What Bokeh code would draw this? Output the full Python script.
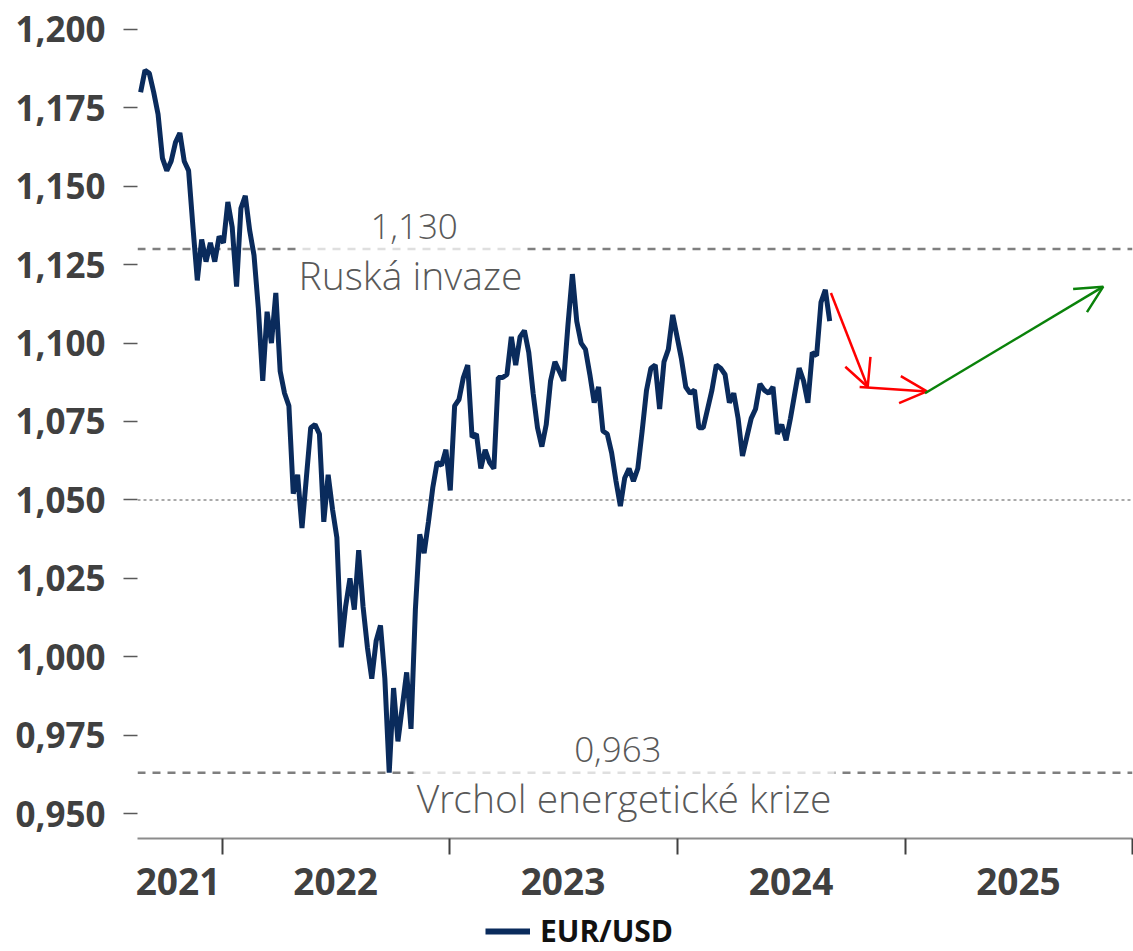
import pandas as pd
from bokeh.plotting import figure
from bokeh.layouts import column
from bokeh.models import (Range1d, FixedTicker, CustomJSTickFormatter, DatetimeTickFormatter,
                          Legend, LegendItem, Arrow, OpenHead, ColumnDataSource)
from bokeh.core.properties import value
from bokeh.embed import file_html
from bokeh.resources import INLINE

# ---------------- data ----------------
start_date = "2021-08-23"
eurusd = [
    1.180, 1.187, 1.186, 1.180, 1.173, 1.159, 1.155, 1.158, 1.164, 1.167,
    1.158, 1.155, 1.137, 1.120, 1.133, 1.126, 1.132, 1.126, 1.134, 1.132,
    1.145, 1.137, 1.118, 1.143, 1.147, 1.136, 1.128, 1.111, 1.088, 1.110,
    1.100, 1.116, 1.091, 1.084, 1.080, 1.052, 1.058, 1.041, 1.057, 1.073,
    1.074, 1.071, 1.043, 1.058, 1.047, 1.038, 1.003, 1.016, 1.025, 1.015,
    1.034, 1.016, 1.003, 0.993, 1.005, 1.010, 0.993, 0.963, 0.990, 0.973,
    0.984, 0.995, 0.977, 1.015, 1.039, 1.033, 1.043, 1.054, 1.062, 1.061,
    1.066, 1.053, 1.080, 1.082, 1.089, 1.093, 1.070, 1.071, 1.060, 1.066,
    1.062, 1.060, 1.089, 1.089, 1.090, 1.102, 1.093, 1.102, 1.104, 1.097,
    1.084, 1.073, 1.067, 1.074, 1.088, 1.094, 1.091, 1.088, 1.106, 1.122,
    1.107, 1.100, 1.098, 1.090, 1.081, 1.086, 1.072, 1.071, 1.065, 1.056,
    1.048, 1.057, 1.060, 1.056, 1.060, 1.072, 1.085, 1.092, 1.093, 1.079,
    1.094, 1.098, 1.109, 1.102, 1.095, 1.086, 1.084, 1.085, 1.073, 1.073,
    1.079, 1.085, 1.093, 1.092, 1.090, 1.081, 1.084, 1.076, 1.064, 1.070,
    1.076, 1.079, 1.087, 1.085, 1.084, 1.086, 1.071, 1.074, 1.069, 1.076,
    1.084, 1.092, 1.088, 1.081, 1.097, 1.096, 1.113, 1.117, 1.107,
]
dates = pd.date_range(start_date, periods=len(eurusd), freq="7D")

year_labels = ["2021", "2022", "2023", "2024", "2025"]
year_label_dates = ["2021-10-22", "2022-07-02", "2023-07-02", "2024-07-02", "2025-07-02"]
year_bounds = ["2022-01-01", "2023-01-01", "2024-01-01", "2025-01-01", "2026-01-01"]
y_ticks = [0.950, 0.975, 1.000, 1.025, 1.050, 1.075, 1.100, 1.125, 1.150, 1.175, 1.200]

levels = [1.130, 0.963]
level_numbers = ["1,130", "0,963"]
level_captions = ["Ruská invaze", "Vrchol energetické krize"]
level_number_dates = ["2022-11-05", "2023-09-28"]
level_caption_dates = ["2022-10-30", "2023-10-08"]
level_caption_halfdays = [183, 338]
guide_level = 1.050

arrow_from_dates = ["2024-09-04", "2024-10-20", "2025-02-02"]
arrow_from_vals = [1.116, 1.086, 1.084]
arrow_to_dates = ["2024-11-02", "2025-02-05", "2025-11-15"]
arrow_to_vals = [1.086, 1.0846, 1.118]
arrow_colors = ["#ff0000", "#ff0000", "#0a820a"]

series_name = "EUR/USD"

# ---------------- layout ----------------
W = 1133
FRAME_W, FRAME_H = 995, 825
B_LEFT, B_RIGHT, B_TOP, B_BOTTOM = 137, 1, 13, 70
LEGEND_H = 951 - B_TOP - FRAME_H - B_BOTTOM
x_start, x_end = pd.Timestamp("2021-08-18"), pd.Timestamp("2026-01-01")
y_start, y_end = 0.94203, 1.20510
ppu = FRAME_H / (y_end - y_start)

FONT = "Open Sans"
LIGHT = "'Open Sans Light', 'Open Sans'"
NAVY = "#0a2b5c"
DARK = "#404040"

p = figure(frame_width=FRAME_W, frame_height=FRAME_H, x_axis_type="datetime",
           output_backend="svg", toolbar_location=None, tools="",
           x_range=Range1d(x_start, x_end), y_range=Range1d(y_start, y_end),
           min_border_left=B_LEFT, min_border_right=B_RIGHT,
           min_border_top=B_TOP, min_border_bottom=B_BOTTOM)
p.outline_line_color = None
p.grid.visible = False
p.background_fill_color = "white"

# reference lines
p.segment(x0=[x_start] * 2, x1=[x_end] * 2, y0=levels, y1=levels,
          line_color="#7f7f7f", line_width=2.5, line_dash="8 7")
p.segment(x0=[x_start], x1=[x_end], y0=[guide_level], y1=[guide_level],
          line_color="#8f8f8f", line_width=1.5, line_dash="3 3")
# light mask behind captions
cap_d = pd.to_datetime(level_caption_dates)
p.quad(left=[d - pd.Timedelta(days=h) for d, h in zip(cap_d, level_caption_halfdays)],
       right=[d + pd.Timedelta(days=h) for d, h in zip(cap_d, level_caption_halfdays)],
       bottom=[v - 3 / ppu for v in levels], top=[v + 3 / ppu for v in levels],
       fill_color="white", fill_alpha=0.75, line_color=None)

# series
r = p.line(dates, eurusd, line_color=NAVY, line_width=5)

# level texts
p.text(x=pd.to_datetime(level_number_dates), y=[v + 23 / ppu for v in levels], text=level_numbers,
       text_font=value(LIGHT), text_font_size="35px", text_color="#595959",
       text_align="center", text_baseline="alphabetic")
p.text(x=cap_d, y=[v - 25 / ppu for v in levels], text=level_captions,
       text_font=value(LIGHT), text_font_size="39px", text_color="#595959",
       text_align="center", text_baseline="alphabetic")

# arrows
for i, c in enumerate(arrow_colors):
    s = ColumnDataSource(dict(x0=pd.to_datetime([arrow_from_dates[i]]), y0=[arrow_from_vals[i]],
                              x1=pd.to_datetime([arrow_to_dates[i]]), y1=[arrow_to_vals[i]]))
    p.add_layout(Arrow(end=OpenHead(size=27, line_color=c, line_width=2.5),
                       x_start="x0", y_start="y0", x_end="x1", y_end="y1", source=s,
                       line_color=c, line_width=2.5))

# y axis
ya = p.yaxis[0]
ya.ticker = FixedTicker(ticks=y_ticks)
ya.formatter = CustomJSTickFormatter(code="return tick.toFixed(3).replace('.', ',');")
ya.axis_line_color = None
ya.major_tick_out = 14
ya.major_tick_in = 0
ya.major_tick_line_color = "#595959"
ya.major_tick_line_width = 1.5
ya.minor_tick_line_color = None
ya.major_label_standoff = 18
ya.major_label_text_font = FONT
ya.major_label_text_font_style = "bold"
ya.major_label_text_font_size = "35px"
ya.major_label_text_color = DARK

# x axis
to_ms = lambda d: pd.Timestamp(d).value / 1e6
xa = p.xaxis[0]
xa.ticker = FixedTicker(ticks=[to_ms(d) for d in year_label_dates],
                        minor_ticks=[to_ms(d) for d in year_bounds])
fmt = "%Y"
xa.formatter = DatetimeTickFormatter(milliseconds=fmt, seconds=fmt, minsec=fmt, minutes=fmt,
                                     hourmin=fmt, hours=fmt, days=fmt, months=fmt, years=fmt)
xa.major_label_overrides = {to_ms(d): t for d, t in zip(year_label_dates, year_labels)}
xa.axis_line_color = "#8c8c8c"
xa.axis_line_width = 2
xa.major_tick_out = 0
xa.major_tick_in = 0
xa.minor_tick_out = 16
xa.minor_tick_in = 0
xa.minor_tick_line_color = DARK
xa.minor_tick_line_width = 2
xa.major_label_standoff = 13
xa.major_label_text_font = FONT
xa.major_label_text_font_style = "bold"
xa.major_label_text_font_size = "37px"
xa.major_label_text_color = DARK

# legend strip below the chart (its frame is aligned with the main frame)
p2 = figure(width=W, height=LEGEND_H, output_backend="svg", toolbar_location=None, tools="",
            x_range=Range1d(0, 1), y_range=Range1d(0, 1), min_border=0,
            x_axis_location=None, y_axis_location=None)
p2.outline_line_color = None
p2.grid.visible = False
# legend key source: a stand-in line kept outside the strip's visible range
r2 = p2.line(x=[2, 3], y=[2, 2], line_color=NAVY, line_width=6)
legend = Legend(items=[LegendItem(label=series_name, renderers=[r2])],
                location=(348, 0), orientation="horizontal",
                border_line_alpha=0, background_fill_alpha=0,
                label_text_font=FONT, label_text_font_style="bold",
                label_text_font_size="30px", label_text_color="#111111",
                glyph_width=45, glyph_height=30, label_standoff=10,
                padding=0, margin=0, spacing=0)
p2.add_layout(legend)

layout = column(p, p2, spacing=0)
open("out.html", "w").write(file_html(layout, INLINE))
